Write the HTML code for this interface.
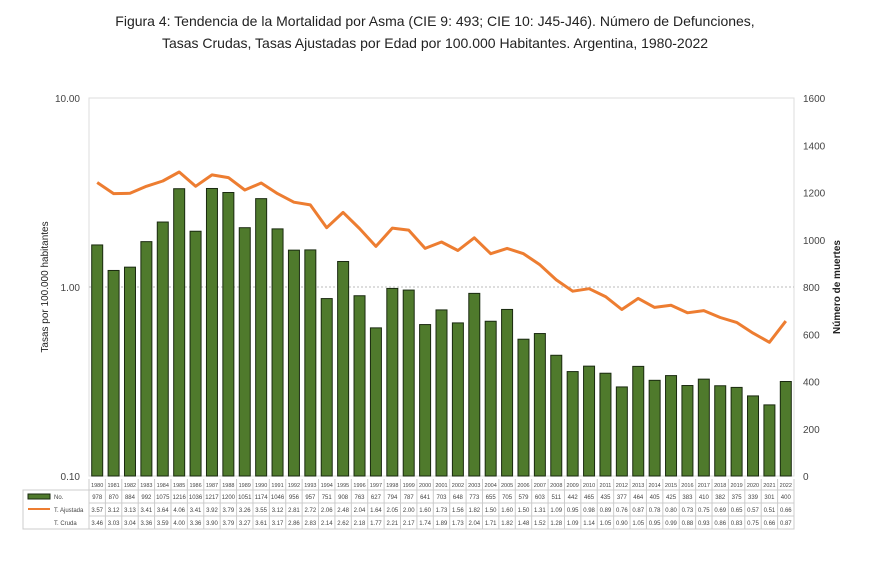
<!DOCTYPE html><html><head><meta charset="utf-8"><style>body{margin:0;background:#fff;font-family:"Liberation Sans",sans-serif}</style></head><body>
<svg id="s" width="870" height="580" xmlns="http://www.w3.org/2000/svg" font-family="Liberation Sans, sans-serif"></svg>
<script>
const N=[978,870,884,992,1075,1216,1036,1217,1200,1051,1174,1046,956,957,751,908,763,627,794,787,641,703,648,773,655,705,579,603,511,442,465,435,377,464,405,425,383,410,382,375,339,301,400];
const A=[3.57,3.12,3.13,3.41,3.64,4.06,3.41,3.92,3.79,3.26,3.55,3.12,2.81,2.72,2.06,2.48,2.04,1.64,2.05,2.00,1.60,1.73,1.56,1.82,1.50,1.60,1.50,1.31,1.09,0.95,0.98,0.89,0.76,0.87,0.78,0.80,0.73,0.75,0.69,0.65,0.57,0.51,0.66];
const C=[3.46,3.03,3.04,3.36,3.59,4.00,3.36,3.90,3.79,3.27,3.61,3.17,2.86,2.83,2.14,2.62,2.18,1.77,2.21,2.17,1.74,1.89,1.73,2.04,1.71,1.82,1.48,1.52,1.28,1.09,1.14,1.05,0.90,1.05,0.95,0.99,0.88,0.93,0.86,0.83,0.75,0.66,0.87];
let h='';
const L=89,R=794,T=98,B=476,n=43,p=(R-L)/n;
h+=`<text x="435" y="26" text-anchor="middle" font-size="14" fill="#222">Figura 4: Tendencia de la Mortalidad por Asma (CIE 9: 493; CIE 10: J45-J46). Número de Defunciones,</text>`;
h+=`<text x="435" y="48" text-anchor="middle" font-size="14" fill="#222">Tasas Crudas, Tasas Ajustadas por Edad por 100.000 Habitantes. Argentina, 1980-2022</text>`;
h+=`<rect x="${L}" y="${T}" width="${R-L}" height="${B-T}" fill="none" stroke="#ddd"/>`;
h+=`<line x1="${L}" x2="${R}" y1="287" y2="287" stroke="#bbb" stroke-dasharray="2,2"/>`;
[[10,'10.00',T],[1,'1.00',287],[.1,'0.10',B]].forEach(a=>h+=`<text x="80" y="${a[2]+4}" text-anchor="end" font-size="10" fill="#444">${a[1]}</text>`);
for(let v=0;v<=1600;v+=200){let y=B-v*(B-T)/1600;h+=`<text x="803" y="${y+4}" font-size="10" fill="#444">${v}</text>`;}
h+=`<text transform="translate(48,287) rotate(-90)" text-anchor="middle" font-size="10" fill="#222">Tasas por 100.000 habitantes</text>`;
h+=`<text transform="translate(840,287) rotate(-90)" text-anchor="middle" font-size="10" font-weight="bold" fill="#222">Número de muertes</text>`;
let pts=[];
for(let i=0;i<n;i++){let cx=L+p*(i+.5);let bh=N[i]*(B-T)/1600;h+=`<rect x="${cx-5.5}" y="${B-bh}" width="11" height="${bh}" fill="#4f7a2c" stroke="#1a2a10" stroke-width="1"/>`;pts.push(cx.toFixed(1)+','+(287-Math.log10(A[i])*189).toFixed(1));}
h+=`<polyline points="${pts.join(' ')}" fill="none" stroke="#ed7d31" stroke-width="3" stroke-linejoin="round"/>`;
// table
const rows=[479,490,503,516,529];
h+=`<rect x="23" y="490" width="${R-23}" height="39" fill="none" stroke="#ccc"/>`;
rows.forEach((y,k)=>{if(k>0)h+=`<line x1="${k==1?23:L}" x2="${R}" y1="${y}" y2="${y}" stroke="#ccc"/>`});
h+=`<line x1="${L}" x2="${L}" y1="479" y2="529" stroke="#ccc"/>`;
for(let i=0;i<=n;i++){let x=L+p*i;h+=`<line x1="${x}" x2="${x}" y1="479" y2="529" stroke="#ccc"/>`;}
for(let i=0;i<n;i++){let cx=L+p*(i+.5);
h+=`<text x="${cx}" y="487" text-anchor="middle" font-size="5.5" fill="#444">${1980+i}</text>`;
h+=`<text x="${cx}" y="499" text-anchor="middle" font-size="6" fill="#444">${N[i]}</text>`;
h+=`<text x="${cx}" y="512" text-anchor="middle" font-size="6" fill="#444">${A[i].toFixed(2)}</text>`;
h+=`<text x="${cx}" y="525" text-anchor="middle" font-size="6" fill="#444">${C[i].toFixed(2)}</text>`;}
h+=`<rect x="28" y="494" width="22" height="5" fill="#4f7a2c" stroke="#1a2a10"/><text x="54" y="499" font-size="6" fill="#444">No.</text>`;
h+=`<line x1="28" x2="50" y1="509" y2="509" stroke="#ed7d31" stroke-width="2"/><text x="54" y="512" font-size="6" fill="#444">T. Ajustada</text>`;
h+=`<text x="54" y="525" font-size="6" fill="#444">T. Cruda</text>`;
document.getElementById('s').innerHTML=h;
</script></body></html>
